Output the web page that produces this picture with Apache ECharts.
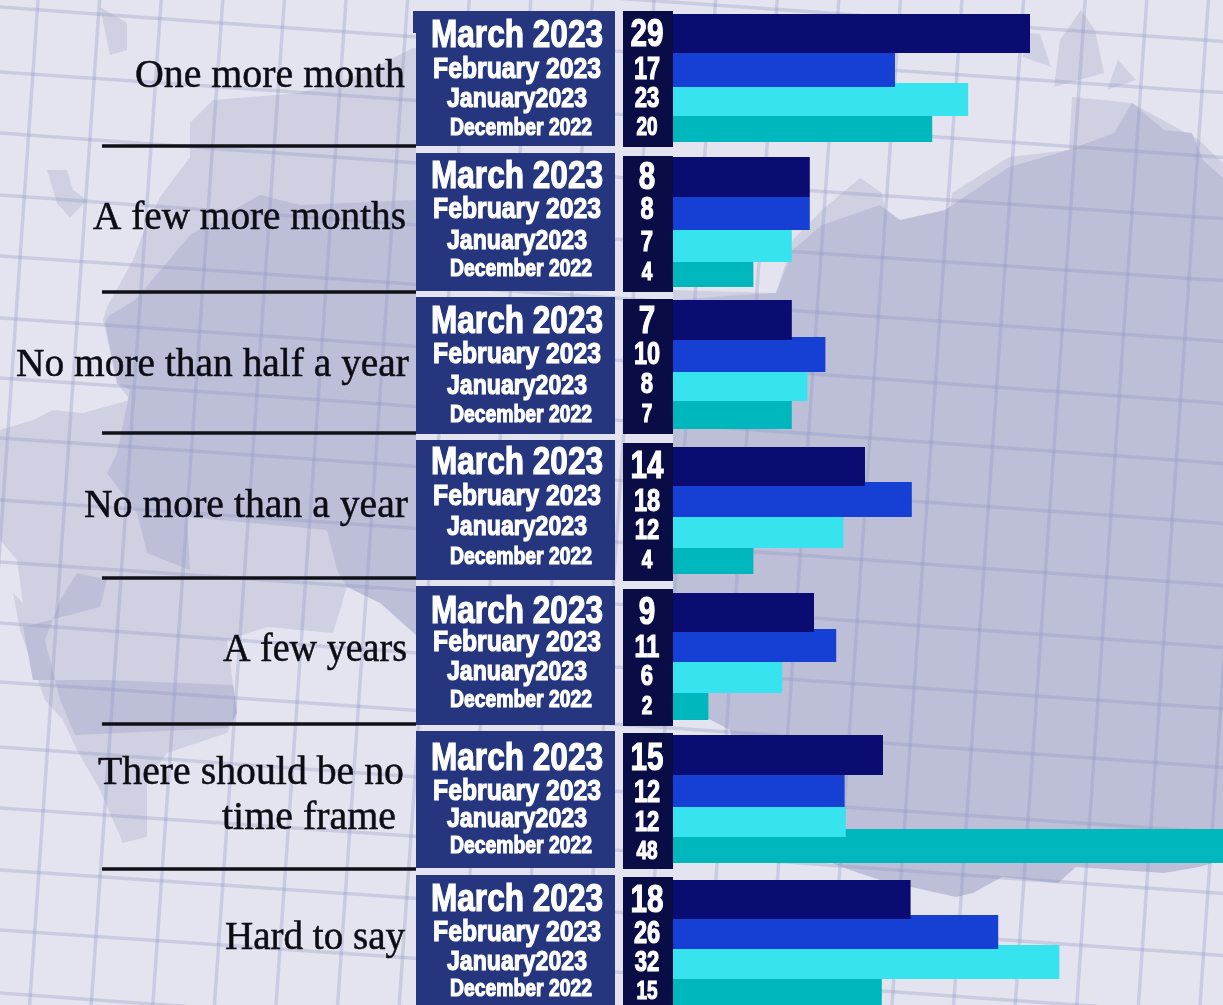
<!DOCTYPE html>
<html>
<head>
<meta charset="utf-8">
<style>html,body{margin:0;padding:0;background:#e4e4f0;overflow:hidden}#c{width:1223px;height:1005px}</style>
<script src="https://cdn.jsdelivr.net/npm/echarts@6/dist/echarts.min.js"></script>
</head>
<body>
<div id="c"></div>
<script>
// ---- data ----
const categories = ['One more month','A few more months','No more than half a year','No more than a year','A few years','There should be no\ntime frame','Hard to say'];
const months = ['March 2023','February 2023','January2023','December 2022'];
// printed numbers
const marchLabels = [29,8,7,14,9,15,18];
const februaryLabels = [17,8,10,18,11,12,26];
const januaryLabels = [23,7,8,12,6,12,32];
const decemberLabels = [20,4,7,4,2,48,15];
// drawn bar lengths on the x axis (the reference's bars are not proportional to the printed numbers)
const marchLengths = [29.75,11.4,9.9,16,11.75,17.5,19.8];
const februaryLengths = [18.5,11.4,12.7,19.9,13.6,14.3,27.1];
const januaryLengths = [24.6,9.9,11.2,14.2,9.1,14.4,32.2];
const decemberLengths = [21.6,6.7,9.9,6.7,2.95,48,17.4];

// ---- layout ----
const W = 1223, H = 1005, ORIGIN_X = 673, TEXT_DY = 3, ROW_DY = [2.5,2,1,1];
const barRows = [
 [[14,53],[53,87],[83,116],[116,142]],
 [[157,197],[197,230],[230,262],[262,287]],
 [[300,340],[337,372],[372,401],[401,429]],
 [[447,486],[482,517],[517,548],[548,574]],
 [[593,632],[629,662],[662,693],[693,720]],
 [[735,775],[775,807],[807,837],[829,863]],
 [[880,919],[915,949],[945,979],[979,1005]]
];
const monthY = [[34,68,98,127],[175,208,240,268],[320,353,385,414],[461,495,526,556],[610,641,671,699],[757,790,818,845],[898,931,961,988]];
const numberY = [[33,68,98,127],[176,208,242,272],[320,353,384,414],[465,500,530,560],[611,646,676,706],[757,791,822,851],[899,932,962,991]];
const monthFont = [38,30,28,24], monthWidth = [172,168,140,142], monthCx = [517,517,517,521];
const numberFont = [39,31,29,25];
const labelLines = [
 [[405,73,270]],[[406,215,313]],[[409,362,393]],[[408,503,324]],[[407,647,184]],
 [[404,770,306],[396,815,174]],[[405,935,180]]
];
const monthPanels = [[11,146],[153,291],[297,434],[440,580],[586,725],[731,868],[875,1005]];
const numberPanels = [[11,147],[156,292],[299,434],[443,581],[589,726],[733,869],[877,1005]];
const separators = [146,292,433,578,724,869];
const barColors = ['#0a0c72','#163fd3','#37e3ef','#00b7be'];

const meas = document.createElement('canvas').getContext('2d');
function fit(text, font, target){ meas.font = font; return target / meas.measureText(text).width; }

// ---- background decoration ----
const LIGHT='#d0d0e3', DARK='#bdbfd8';
const shapes = [
 [LIGHT,[[100,7],[127,23],[127,50],[110,55]]],
 [LIGHT,[[47,170],[67,170],[73,190],[87,200],[70,218],[57,203]]],
 [LIGHT,[[413,48],[360,75],[300,93],[213,100],[190,123],[190,157],[160,197],[143,233],[133,260],[107,307],[103,320],[117,383],[130,400],[83,413],[53,410],[33,420],[0,430],[0,540],[17,560],[23,603],[13,593],[20,630],[45,700],[63,720],[77,750],[100,790],[113,820],[123,843],[147,837],[147,780],[167,753],[227,733],[237,713],[233,683],[227,640],[267,627],[333,633],[347,587],[416,600],[416,48]]],
 [DARK,[[130,390],[117,453],[107,473],[137,513],[147,553],[190,570],[187,517],[327,530],[337,570],[347,587],[380,603],[416,635],[416,200],[300,205],[260,195],[190,235],[165,265],[135,300],[110,315],[105,322],[117,383]]],
 [DARK,[[23,627],[100,607],[107,580],[77,573],[60,600],[45,640],[60,700],[75,735],[227,728],[237,713],[233,685],[107,680],[33,680]]],
 [LIGHT,[[1026,33],[1040,34],[1051,67],[1023,57]]],
 [LIGHT,[[1081,10],[1095,30],[1104,73],[1054,87],[1060,40]]],
 [LIGHT,[[1118,60],[1136,80],[1107,90]]],
 [LIGHT,[[1072,97],[1132,103],[1199,140],[1223,163],[1223,300],[940,300],[952,193],[1009,157],[1069,150]]],
 [LIGHT,[[673,290],[776,293],[793,240],[822,210],[860,178],[882,193],[900,300],[900,400],[673,400]]],
 [DARK,[[945,210],[1009,167],[1069,150],[1114,133],[1132,103],[1164,130],[1192,133],[1203,160],[1223,178],[1223,860],[1199,867],[1164,873],[1076,867],[1058,883],[1002,877],[973,893],[956,897],[880,880],[850,870],[760,835],[740,780],[730,730],[673,700],[673,300],[740,295],[776,293],[793,250],[822,225],[880,205],[900,220]]]
];
const graphics = [{type:'rect',z:-20,silent:true,shape:{x:0,y:0,width:W,height:H},style:{fill:'#e4e4f0'}}];
shapes.forEach(s=>graphics.push({type:'polygon',z:-19,silent:true,shape:{points:s[1]},style:{fill:s[0]}}));
const GRID='rgba(140,148,190,0.3)';
[-44,7,72,133,195,256,318,378,438,500,562,623,682,747,808,870,930,993].forEach(y0=>{
  const pts=[]; for(let x=0;x<=W;x+=200) pts.push([x,y0+x*0.07+ (y0%2?1:-1)*Math.sin(x/400)]);
  pts.push([W,y0+W*0.07]);
  graphics.push({type:'polyline',z:-18,silent:true,shape:{points:pts},style:{stroke:GRID,lineWidth:3.5,fill:null}});
});
for(let x0=38;x0<1320;x0+=61.6){
  graphics.push({type:'line',z:-18,silent:true,shape:{x1:x0,y1:0,x2:x0-70,y2:H},style:{stroke:GRID,lineWidth:3.5}});
}
monthPanels.forEach(p=>graphics.push({type:'rect',z:-10,silent:true,shape:{x:416,y:p[0],width:199,height:p[1]-p[0]},style:{fill:'#25367f'}}));
graphics.push({type:'rect',z:-10,silent:true,shape:{x:413,y:11,width:3,height:22},style:{fill:'#25367f'}});
numberPanels.forEach(p=>graphics.push({type:'rect',z:-10,silent:true,shape:{x:623,y:p[0],width:50,height:p[1]-p[0]},style:{fill:'#090c45'}}));
separators.forEach(y=>graphics.push({type:'line',z:-9,silent:true,shape:{x1:102,y1:y,x2:416,y2:y},style:{stroke:'#101018',lineWidth:3.5}}));

// ---- series ----
function whiteText(text,x,y,size,sx){
  return {type:'text',x:x,y:y,scaleX:sx,silent:true,z2:5,style:{text:text,x:0,y:0,align:'center',verticalAlign:'middle',
    font:'bold '+size+'px "Liberation Sans"',fill:'#ffffff',stroke:'#ffffff',lineWidth:1.2,
    shadowColor:'rgba(5,10,50,0.8)',shadowBlur:2,shadowOffsetX:1,shadowOffsetY:1}};
}
function monthSeries(m,lengths,labels){
  return {
    type:'custom',name:months[m],coordinateSystem:'cartesian2d',clip:true,z:10+(3-m),
    encode:{x:0,y:1},
    data:lengths.map((v,g)=>[v,g,labels[g]]),
    renderItem:function(p,api){
      const g=api.value(1), x1=api.coord([api.value(0),g])[0], x0=api.coord([0,g])[0], r=barRows[g][m];
      const shape=echarts.graphic.clipRectByRect({x:x0,y:r[0],width:x1-x0,height:r[1]-r[0]},{x:x0,y:0,width:W-x0,height:H});
      return {type:'rect',shape:shape,style:{fill:barColors[m]}};
    }
  };
}
function textSeries(m,labels){
  return {
    type:'custom',name:months[m]+' labels',coordinateSystem:'cartesian2d',clip:false,z:20,silent:true,
    encode:{x:0,y:1},
    data:labels.map((v,g)=>[v,g]),
    renderItem:function(p,api){
      const g=api.value(1), n=String(api.value(0));
      const font='bold '+monthFont[m]+'px "Liberation Sans"';
      return {type:'group',children:[
        whiteText(months[m],monthCx[m],monthY[g][m]+ROW_DY[m],monthFont[m],fit(months[m],font,monthWidth[m])),
        whiteText(n,647,numberY[g][m]+ROW_DY[m],numberFont[m],0.76)
      ]};
    }
  };
}
const labelSeries = {
  type:'custom',name:'Answers',coordinateSystem:'cartesian2d',clip:false,z:20,silent:true,
  encode:{x:0,y:1},
  data:categories.map((c,g)=>[0,g]),
  renderItem:function(p,api){
    const g=api.value(1), lines=categories[g].split('\n');
    const font='40px "Liberation Serif"';
    return {type:'group',children:lines.map((t,i)=>{
      const l=labelLines[g][i];
      return {type:'text',x:l[0],y:l[1]+TEXT_DY,scaleX:fit(t,font,l[2]),style:{text:t,x:0,y:0,align:'right',verticalAlign:'middle',font:font,fill:'#0c0c14',stroke:'#0c0c14',lineWidth:0.5}};
    })};
  }
};

const chart = echarts.init(document.getElementById('c'),null,{renderer:'canvas',width:W,height:H});
chart.setOption({
  animation:false,
  backgroundColor:'#e4e4f0',
  graphic:{elements:graphics},
  grid:{left:ORIGIN_X,right:0,top:0,bottom:0,containLabel:false},
  xAxis:{type:'value',min:0,max:(W-ORIGIN_X)/12,show:false},
  yAxis:{type:'category',data:categories,inverse:true,show:false},
  tooltip:{show:false},
  series:[
    monthSeries(3,decemberLengths,decemberLabels),
    monthSeries(2,januaryLengths,januaryLabels),
    monthSeries(1,februaryLengths,februaryLabels),
    monthSeries(0,marchLengths,marchLabels),
    textSeries(0,marchLabels),textSeries(1,februaryLabels),textSeries(2,januaryLabels),textSeries(3,decemberLabels),
    labelSeries
  ]
});
</script>
</body>
</html>
